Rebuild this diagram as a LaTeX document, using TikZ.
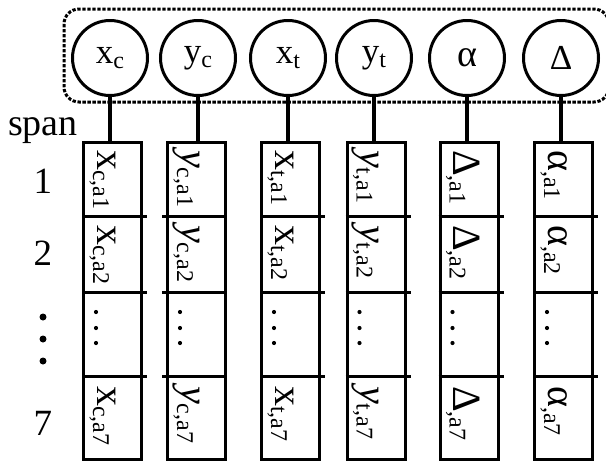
\documentclass[tikz,border=0pt]{standalone}
\usepackage{fontspec}
\setmainfont{Liberation Serif}
\newcommand\circt[2]{{\fontsize{35}{35}\selectfont #1}\raisebox{-5pt}{\fontsize{24}{24}\selectfont #2}}
\newcommand\cellt[2]{{\fontsize{40}{40}\selectfont #1}\raisebox{-4pt}{\fontsize{24}{24}\selectfont #2}}
\newcommand\colcells[6]{%
  \node[colbox] (col#1) at (#2,300.5) {};
  \node[celltext] (t#1a) at (#2-15.5,150) {\cellt{#3}{#4a1}};
  \node[celltext] (t#1b) at (#2-15.5,225) {\cellt{#3}{#4a2}};
  \node[celltext] (t#1c) at (#2-15.5,386) {\cellt{#3}{#4a7}};
  \draw[divline] (#2-#5,216) -- (#2+#6,216);
  \draw[divline] (#2-#5,292) -- (#2+#6,292);
  \draw[divline] (#2-#5,376) -- (#2+#6,376);
  \fill (#2-16.5,312) circle (2.1);
  \fill (#2-16.5,328) circle (2.1);
  \fill (#2-16.5,343) circle (2.1);
}
\begin{document}
\begin{tikzpicture}[x=1pt,y=-1pt,
  var/.style={circle,draw,line width=3pt,minimum size=75pt,inner sep=0pt},
  colbox/.style={draw,line width=3pt,inner sep=0pt,minimum width=58pt,minimum height=317pt},
  conn/.style={line width=3.5pt},
  divline/.style={line width=3pt},
  celltext/.style={rotate=-90,anchor=base west,inner sep=0pt},
  lbl/.style={inner sep=0pt,anchor=base,font=\fontsize{37}{37}\selectfont}]
\useasboundingbox (0,0) rectangle (606,461);
\draw[line width=3pt,dash pattern=on 3.3pt off 1.7pt,rounded corners=15pt] (64,9) rectangle (609,102);
\node[var] (c1) at (110,58) {\circt{x}{c}};
\node[var] (c2) at (198,58) {\circt{y}{c}};
\node[var] (c3) at (288,58) {\circt{x}{t}};
\node[var] (c4) at (374,58) {\circt{y}{t}};
\node[var] (c5) at (467,58) {{\fontsize{38}{38}\selectfont α}};
\node[var] (c6) at (561,58) {{\fontsize{35}{35}\selectfont Δ}};
\colcells{1}{112.5}{x}{c,}{30.5}{34.5}
\colcells{2}{196.5}{\textit{y}}{c,}{34.5}{30.5}
\colcells{3}{290.5}{x}{t,}{30.5}{34.5}
\colcells{4}{376}{\textit{y}}{t,}{30.5}{34.5}
\colcells{5}{469}{Δ}{,}{30.5}{34.5}
\colcells{6}{563.5}{α}{,}{30.5}{34.5}
\foreach \k in {1,...,6} {\draw[conn] (c\k) -- (c\k |- col\k.north);}
\node[inner sep=0pt,anchor=base west,font=\fontsize{38}{38}\selectfont] (span) at (8,135) {span};
\node[lbl] (r1) at (43,193) {1};
\node[lbl] (r2) at (43,265) {2};
\node[lbl] (r7) at (43,435) {7};
\fill (43,317) circle (3.5);
\fill (43,339) circle (3.5);
\fill (43,361) circle (3.5);
\end{tikzpicture}
\end{document}
